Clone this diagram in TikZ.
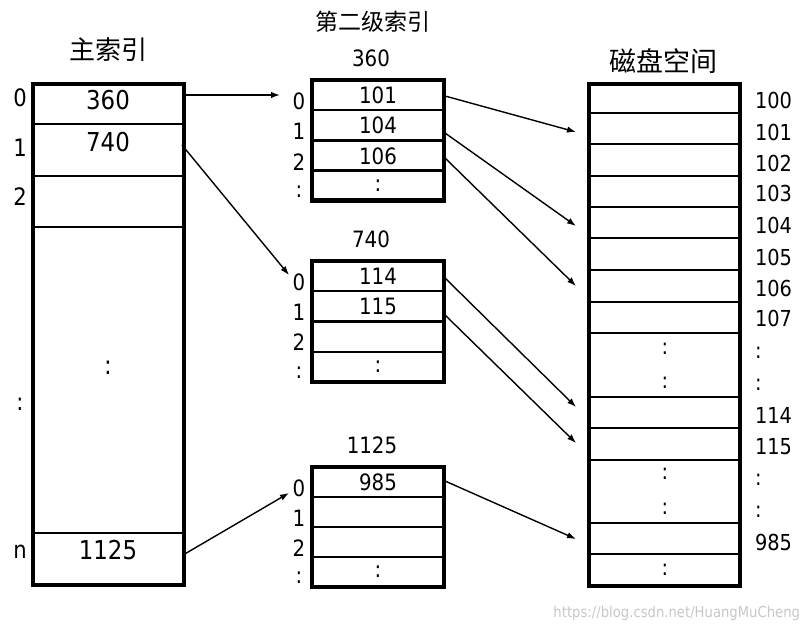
\documentclass[tikz,border=0pt]{standalone}
\usepackage{fontspec}
\setmainfont{DejaVu Sans}[FakeStretch=0.88]
\newfontfamily\cjk{Noto Sans CJK SC}
\usetikzlibrary{calc}
\usetikzlibrary{arrows.meta}
\tikzset{
cell/.style={draw,black,line width=2pt,inner sep=0pt,outer sep=0pt,anchor=center},
mcell/.style={cell,minimum width=151pt},
scell/.style={cell,minimum width=132pt,minimum height=30pt,font=\fontsize{22.5pt}{22.5pt}\selectfont},
dcell/.style={cell,minimum width=151pt},
frame/.style={draw,black,line width=4.5pt},
txt/.style={inner sep=0pt,outer sep=0pt,anchor=center},
mnum/.style={txt,font=\fontsize{26pt}{26pt}\selectfont},
mlab/.style={txt,font=\fontsize{24pt}{24pt}\selectfont},
snum/.style={txt,font=\fontsize{22.5pt}{22.5pt}\selectfont},
dlab/.style={txt,anchor=west,font=\fontsize{22pt}{22pt}\selectfont},
dnum/.style={txt,font=\fontsize{22pt}{22pt}\selectfont},
head/.style={txt,font=\cjk\fontsize{26pt}{26pt}\selectfont},
wmark/.style={txt,anchor=east,text=black!22,font=\fontsize{15pt}{15pt}\selectfont},
arr/.style={black,line width=1.4pt,-{Latex[length=9pt,width=6.5pt]}}
}

\begin{document}
\begin{tikzpicture}[x=1pt,y=-1pt]
    \useasboundingbox (0,0) rectangle (809,631);
    %
    % main index
    \node[head] (hm) at (108,50) {主索引};
    \foreach \n/\y/\h in {m0/104/40,m1/150/52,m2/201.5/51,m3/380/306,mn/559/52}
    \node[mcell,minimum height=\h pt] (\n) at (108.5,\y) {};
    \draw[frame] (m0.north west) rectangle (mn.south east);
    \node[mnum] (v0) at (108,100.5) {360};
    \node[mnum] (v1) at (108,142) {740};
    \node[mnum] (v3) at (108,368) {:};
    \node[mnum] (vn) at (108,550) {1125};
    \foreach \n/\y/\t in {i0/98/0,i1/148/1,i2/197/2,i3/404/:,i4/552/n}
    \node[mlab] (\n) at (20,\y) {\t};
    %
    % second level index
    \node[head,font=\cjk\fontsize{23pt}{23pt}\selectfont] (hs) at (373,22) {第二级索引};
    \node[snum] (ha) at (371,58) {360};
    \node[snum] (hb) at (371,239) {740};
    \node[snum] (hc) at (372,445) {1125};
    \foreach \r/\y/\t/\l in {0/95/101/0,1/125.5/104/1,2/156/106/2,3/185.5/:/:} {
    \node[scell] (a\r) at (378,\y) {\t};
    \node[snum] (la\r) at (299,\y+6) {\l};
    }
    \foreach \r/\y/\t/\l in {0/276/114/0,1/306/115/1,2/336.5//2,3/367/:/:} {
    \node[scell] (b\r) at (378,\y) {\t};
    \node[snum] (lb\r) at (299,\y+6) {\l};
    }
    \foreach \r/\y/\t/\l in {0/482/985/0,1/512//1,2/542//2,3/572/:/:} {
    \node[scell] (c\r) at (378,\y) {\t};
    \node[snum] (lc\r) at (299,\y+6) {\l};
    }
    \draw[frame] (a0.north west) rectangle (a3.south east);
    \draw[frame] (b0.north west) rectangle (b3.south east);
    \draw[frame] (c0.north west) rectangle (c3.south east);
    %
    % disk space
    \node[head,font=\cjk\fontsize{27pt}{27pt}\selectfont] (hd) at (663,61) {磁盘空间};
    \foreach \n/\y/\h in {d100/98.5/29,d101/128.5/31,d102/160/32,d103/191.5/31,
      d104/222.5/31,d105/254/32,d106/286/32,d107/317.5/31,dg1/365/64,
      d114/412.5/31,d115/444/32,dg2/491.5/63,d985/538.5/31,dg3/570/32}
    \node[dcell,minimum height=\h pt] (\n) at (664.5,\y) {};
    \draw[frame] (d100.north west) rectangle (dg3.south east);
    \foreach \n/\y in {e1/349,e2/383,e3/474,e4/509,e5/570}
    \node[dnum] (\n) at (665,\y) {:};
    \foreach \n/\y/\t in {r0/100/100,r1/132/101,r2/163/102,r3/193/103,r4/225/104,
      r5/257/105,r6/288/106,r7/318/107,r8/353/:,r9/385/:,r10/415/114,
      r11/447/115,r12/480/:,r13/512/:,r14/542/985}
    \node[dlab] (\n) at (755,\y) {\t};
    %
    % pointers
    \draw[arr] ([shift={(-1,-9)}]m0.east) -- ([shift={(-32,0)}]a0.west);
    \draw[arr] ([shift={(-2,-5)}]m1.east) -- ([shift={(-23,-1)}]b0.west);
    \draw[arr] ([shift={(-1,-4)}]mn.east) -- ([shift={(-23,11)}]c0.west);
    \foreach \u/\du/\v/\dv in {a0/1/d101/3.5,a1/7.5/d104/3.5,a2/2/d106/0,
      b0/2/d114/-5.5,b1/9/d115/-1,c0/-1/d985/0.5}
    \draw[arr] ([shift={(1,\du)}]\u.east) -- ([shift={(-13,\dv)}]\v.west);
    %
    \node[wmark] (wm) at (800,613) {https://blog.csdn.net/HuangMuCheng};
\end{tikzpicture}
\end{document}
